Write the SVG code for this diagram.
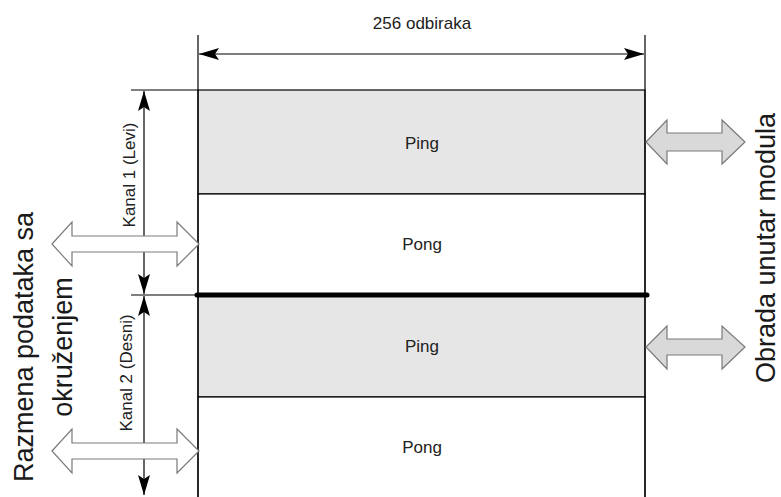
<svg xmlns="http://www.w3.org/2000/svg" width="781" height="497" viewBox="0 0 781 497">
  <style>
    .lbl { font-family: "Liberation Sans", Arial, sans-serif; font-size: 17px; fill: #222; text-anchor: middle; }
    .big { font-family: "Liberation Sans", Arial, sans-serif; font-size: 27px; fill: #1a1a1a; text-anchor: middle; }
    .thin { stroke: #000; stroke-width: 1.2; fill: none; }
    .ping { fill: #e6e6e6; stroke: #000; stroke-width: 1.2; }
    .pong { fill: #ffffff; stroke: #000; stroke-width: 1.2; }
    .hollow { fill: #ffffff; stroke: #7a7a7a; stroke-width: 1.2; }
    .solid { fill: #d9d9d9; stroke: #7a7a7a; stroke-width: 1.2; }
  </style>
  <defs>
    <marker id="tip" viewBox="0 0 20 12" refX="20" refY="6" markerWidth="20" markerHeight="12" markerUnits="userSpaceOnUse" orient="auto-start-reverse">
      <path d="M0,0 L20,6 L0,12 L4,6 Z" fill="#000"/>
    </marker>
  </defs>

  <rect width="781" height="497" fill="#ffffff"/>

  <!-- buffer blocks -->
  <g id="ping1">
    <rect class="ping" x="198" y="90" width="447" height="104"/>
    <text class="lbl" x="422" y="149">Ping</text>
  </g>
  <g id="pong1">
    <rect class="pong" x="198" y="194" width="447" height="101"/>
    <text class="lbl" x="422" y="250">Pong</text>
  </g>
  <g id="ping2">
    <rect class="ping" x="198" y="295" width="447" height="102"/>
    <text class="lbl" x="422" y="352">Ping</text>
  </g>
  <g id="pong2">
    <rect class="pong" x="198" y="397" width="447" height="104"/>
    <text class="lbl" x="422" y="453">Pong</text>
  </g>

  <!-- extension and dimension lines -->
  <g id="connectors">
    <line class="thin" x1="198" y1="35" x2="198" y2="497"/>
    <line class="thin" x1="645" y1="35" x2="645" y2="497"/>
    <line class="thin" x1="131" y1="90" x2="198" y2="90"/>
    <line class="thin" x1="131" y1="295" x2="198" y2="295"/>
    <line x1="197" y1="295" x2="647" y2="295" stroke="#000" stroke-width="5" stroke-linecap="round"/>
    <line class="thin" x1="199" y1="54" x2="644" y2="54" marker-start="url(#tip)" marker-end="url(#tip)"/>
    <line class="thin" x1="144" y1="91" x2="144" y2="294" marker-start="url(#tip)" marker-end="url(#tip)"/>
    <line class="thin" x1="144" y1="296" x2="144" y2="495" marker-start="url(#tip)" marker-end="url(#tip)"/>
  </g>

  <g id="width-label">
    <text class="lbl" x="422" y="29">256 odbiraka</text>
  </g>
  <g id="channel1-label">
    <text class="lbl" transform="translate(135,175) rotate(-90)">Kanal 1 (Levi)</text>
  </g>
  <g id="channel2-label">
    <text class="lbl" transform="translate(132,373) rotate(-90)">Kanal 2 (Desni)</text>
  </g>

  <!-- exchange with the environment -->
  <g id="io-arrow1">
    <polygon class="hollow" points="52,244 72,222 72,236 177,236 177,222 199,244 177,266 177,252 72,252 72,266"/>
  </g>
  <g id="io-arrow2">
    <polygon class="hollow" points="52,451 72,429 72,443 177,443 177,429 199,451 177,473 177,459 72,459 72,473"/>
  </g>
  <g id="io-label">
    <text class="big" transform="translate(33,347) rotate(-90)">Razmena podataka sa</text>
    <text class="big" transform="translate(72,347) rotate(-90)">okruženjem</text>
  </g>

  <!-- processing inside the module -->
  <g id="proc-arrow1">
    <polygon class="solid" points="646,142 667,120 667,133 722,133 722,120 745,142 722,164 722,151 667,151 667,164"/>
  </g>
  <g id="proc-arrow2">
    <polygon class="solid" points="646,347 667,326 667,339 722,339 722,326 745,347 722,369 722,355 667,355 667,369"/>
  </g>
  <g id="proc-label">
    <text class="big" transform="translate(775,248) rotate(-90)">Obrada unutar modula</text>
  </g>
</svg>
